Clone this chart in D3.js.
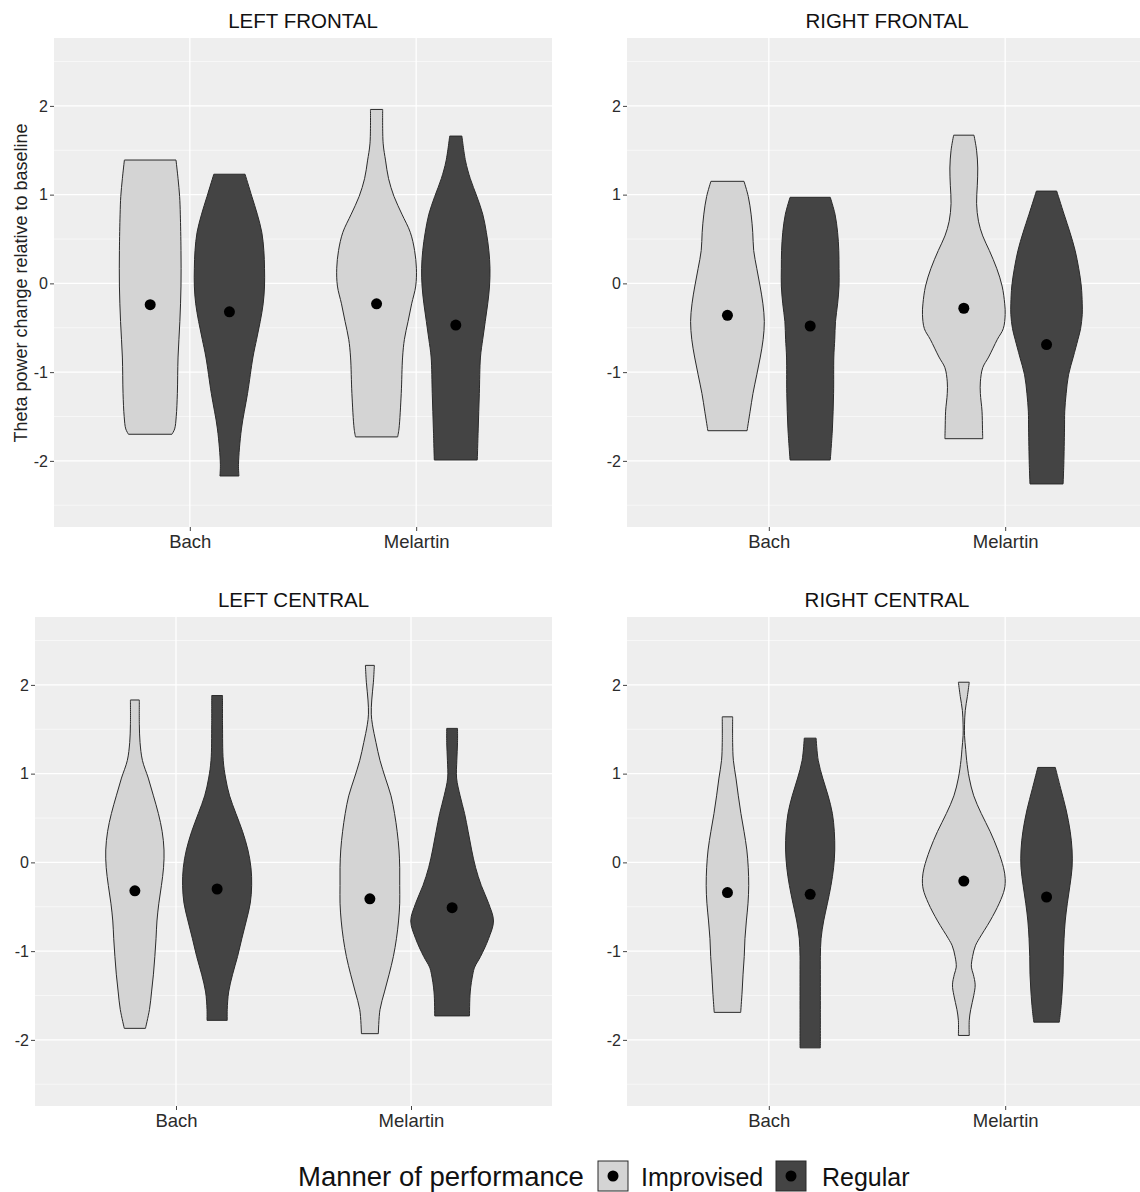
<!DOCTYPE html>
<html>
<head>
<meta charset="utf-8">
<script src="https://cdn.jsdelivr.net/npm/d3@7"></script>
<style>
  body { margin: 0; background: #fff; }
  svg text { font-family: "Liberation Sans", Arial, sans-serif; }
</style>
</head>
<body>
<div class="chart"></div>
<script>
var svgWidth = 1140;
var svgHeight = 1192;

// categories
var regions = ["LEFT FRONTAL", "RIGHT FRONTAL", "LEFT CENTRAL", "RIGHT CENTRAL"];
var pieces = ["Bach", "Melartin"];
var manners = ["Improvised", "Regular"];
var yTicks = [-2, -1, 0, 1, 2];
var yMinor = [-2.5, -1.5, -0.5, 0.5, 1.5, 2.5];

// means, order: Bach-Improvised, Bach-Regular, Melartin-Improvised, Melartin-Regular
var leftFrontalMeans = [-0.24, -0.32, -0.23, -0.47];
var rightFrontalMeans = [-0.36, -0.48, -0.28, -0.69];
var leftCentralMeans = [-0.32, -0.30, -0.41, -0.51];
var rightCentralMeans = [-0.34, -0.36, -0.21, -0.39];

// violin outlines: [value, half width in category units]
var leftFrontalShapes = [
  [[1.39,0.114],[1.18,0.123],[0.98,0.13],[0.78,0.133],[0.37,0.136],[-0.03,0.136],[-0.43,0.131],[-0.83,0.123],[-1.24,0.120],[-1.50,0.115],[-1.64,0.108],[-1.70,0.096]],
  [[1.23,0.069],[0.98,0.099],[0.78,0.123],[0.575,0.143],[0.37,0.152],[0.17,0.155],[-0.03,0.155],[-0.23,0.149],[-0.43,0.136],[-0.63,0.120],[-0.83,0.104],[-1.24,0.080],[-1.64,0.053],[-2.04,0.040],[-2.17,0.042]],
  [[1.96,0.027],[1.58,0.029],[1.38,0.040],[1.18,0.053],[0.98,0.077],[0.78,0.112],[0.575,0.149],[0.37,0.168],[0.17,0.176],[-0.03,0.173],[-0.23,0.155],[-0.43,0.139],[-0.63,0.123],[-0.83,0.115],[-1.24,0.109],[-1.64,0.099],[-1.73,0.093]],
  [[1.66,0.027],[1.38,0.043],[1.18,0.064],[0.98,0.093],[0.78,0.119],[0.575,0.135],[0.37,0.146],[0.17,0.151],[-0.03,0.149],[-0.23,0.141],[-0.43,0.130],[-0.63,0.119],[-0.83,0.109],[-1.24,0.104],[-1.64,0.099],[-1.99,0.095]]
];
var rightFrontalShapes = [
  [[1.15,0.070],[0.98,0.088],[0.78,0.100],[0.575,0.107],[0.37,0.111],[0.17,0.124],[-0.03,0.138],[-0.23,0.150],[-0.43,0.156],[-0.63,0.151],[-0.83,0.139],[-1.03,0.124],[-1.24,0.108],[-1.44,0.096],[-1.66,0.083]],
  [[0.97,0.085],[0.78,0.105],[0.575,0.116],[0.37,0.121],[0.17,0.122],[-0.03,0.122],[-0.23,0.116],[-0.43,0.107],[-0.63,0.104],[-0.83,0.100],[-1.24,0.099],[-1.64,0.094],[-1.99,0.085]],
  [[1.67,0.043],[1.50,0.054],[1.30,0.059],[1.10,0.057],[0.90,0.054],[0.70,0.062],[0.535,0.080],[0.37,0.108],[0.17,0.139],[-0.03,0.162],[-0.23,0.173],[-0.35,0.175],[-0.51,0.167],[-0.63,0.142],[-0.83,0.105],[-0.95,0.080],[-1.11,0.070],[-1.24,0.070],[-1.44,0.077],[-1.64,0.079],[-1.75,0.080]],
  [[1.04,0.043],[0.78,0.074],[0.575,0.099],[0.37,0.121],[0.17,0.136],[-0.03,0.147],[-0.23,0.151],[-0.35,0.151],[-0.51,0.144],[-0.63,0.133],[-0.83,0.113],[-1.03,0.093],[-1.24,0.083],[-1.44,0.077],[-1.64,0.076],[-2.04,0.073],[-2.26,0.070]]
];
var leftCentralShapes = [
  [[1.83,0.019],[1.55,0.019],[1.35,0.022],[1.15,0.032],[0.95,0.057],[0.75,0.079],[0.55,0.100],[0.35,0.116],[0.14,0.124],[-0.06,0.122],[-0.26,0.113],[-0.46,0.102],[-0.66,0.094],[-0.86,0.090],[-1.06,0.085],[-1.26,0.079],[-1.46,0.071],[-1.66,0.062],[-1.87,0.045]],
  [[1.88,0.023],[1.55,0.023],[1.15,0.026],[0.95,0.036],[0.75,0.053],[0.55,0.080],[0.35,0.108],[0.14,0.131],[-0.06,0.144],[-0.26,0.147],[-0.46,0.141],[-0.66,0.124],[-0.86,0.105],[-1.06,0.087],[-1.26,0.066],[-1.46,0.049],[-1.66,0.043],[-1.78,0.043]],
  [[2.22,0.019],[2.03,0.015],[1.83,0.008],[1.67,0.006],[1.55,0.011],[1.35,0.026],[1.15,0.043],[0.95,0.066],[0.75,0.090],[0.55,0.105],[0.35,0.116],[0.14,0.124],[-0.06,0.127],[-0.26,0.127],[-0.46,0.127],[-0.66,0.122],[-0.86,0.113],[-1.06,0.100],[-1.26,0.082],[-1.46,0.062],[-1.66,0.043],[-1.93,0.036]],
  [[1.51,0.023],[1.35,0.023],[1.15,0.020],[0.95,0.019],[0.75,0.034],[0.55,0.053],[0.35,0.068],[0.14,0.083],[-0.06,0.100],[-0.26,0.124],[-0.46,0.155],[-0.66,0.176],[-0.86,0.155],[-1.06,0.121],[-1.18,0.096],[-1.26,0.088],[-1.46,0.077],[-1.73,0.074]]
];
var rightCentralShapes = [
  [[1.64,0.022],[1.35,0.022],[1.15,0.025],[0.95,0.036],[0.75,0.046],[0.55,0.057],[0.35,0.070],[0.14,0.082],[-0.06,0.088],[-0.26,0.090],[-0.46,0.087],[-0.66,0.080],[-0.86,0.074],[-1.06,0.071],[-1.26,0.066],[-1.46,0.062],[-1.69,0.056]],
  [[1.40,0.025],[1.15,0.034],[0.95,0.053],[0.75,0.076],[0.55,0.094],[0.35,0.102],[0.14,0.104],[-0.06,0.099],[-0.26,0.088],[-0.46,0.073],[-0.66,0.057],[-0.86,0.046],[-1.06,0.043],[-1.26,0.043],[-1.66,0.043],[-2.09,0.043]],
  [[2.03,0.023],[1.87,0.015],[1.71,0.006],[1.55,0.003],[1.43,0.003],[1.27,0.008],[1.15,0.012],[0.95,0.023],[0.75,0.042],[0.55,0.074],[0.35,0.111],[0.14,0.144],[-0.06,0.168],[-0.18,0.175],[-0.30,0.172],[-0.46,0.150],[-0.66,0.111],[-0.86,0.065],[-0.94,0.049],[-1.06,0.037],[-1.18,0.032],[-1.26,0.040],[-1.38,0.048],[-1.50,0.042],[-1.66,0.029],[-1.78,0.023],[-1.95,0.023]],
  [[1.07,0.037],[0.83,0.060],[0.59,0.083],[0.35,0.100],[0.14,0.108],[-0.06,0.108],[-0.26,0.099],[-0.46,0.088],[-0.66,0.079],[-0.86,0.074],[-1.06,0.071],[-1.26,0.070],[-1.46,0.066],[-1.66,0.060],[-1.80,0.054]]
];

var allMeans = [leftFrontalMeans, rightFrontalMeans, leftCentralMeans, rightCentralMeans];
var allShapes = [leftFrontalShapes, rightFrontalShapes, leftCentralShapes, rightCentralShapes];

// panel boxes in pixels
var boxes = [
  {left: 54, right: 552, top: 38, bottom: 527},
  {left: 627, right: 1147, top: 38, bottom: 527},
  {left: 35, right: 552, top: 617, bottom: 1106},
  {left: 627, right: 1147, top: 617, bottom: 1106}
];

var fills = {Improvised: "#d4d4d4", Regular: "#444444"};
var dodge = 0.175;

var svg = d3.select(".chart")
  .append("svg")
  .attr("width", svgWidth)
  .attr("height", svgHeight);

function drawPanel(i) {
  var box = boxes[i];
  var g = svg.append("g");

  var x = d3.scaleLinear().domain([0.4, 2.6]).range([box.left, box.right]);
  var y = d3.scaleLinear().domain([-2.745, 2.765]).range([box.bottom, box.top]);

  g.append("rect")
    .attr("x", box.left)
    .attr("y", box.top)
    .attr("width", box.right - box.left)
    .attr("height", box.bottom - box.top)
    .attr("fill", "#eeeeee");

  // grid
  g.selectAll(".minor")
    .data(yMinor)
    .enter()
    .append("line")
    .attr("x1", box.left).attr("x2", box.right)
    .attr("y1", d => y(d)).attr("y2", d => y(d))
    .attr("stroke", "#fafafa")
    .attr("stroke-width", 0.7);

  g.selectAll(".major")
    .data(yTicks)
    .enter()
    .append("line")
    .attr("x1", box.left).attr("x2", box.right)
    .attr("y1", d => y(d)).attr("y2", d => y(d))
    .attr("stroke", "#ffffff")
    .attr("stroke-width", 1.3);

  g.selectAll(".vmajor")
    .data(pieces)
    .enter()
    .append("line")
    .attr("x1", (d, k) => x(k + 1)).attr("x2", (d, k) => x(k + 1))
    .attr("y1", box.top).attr("y2", box.bottom)
    .attr("stroke", "#ffffff")
    .attr("stroke-width", 1.3);

  // violins
  var shapes = allShapes[i];
  var means = allMeans[i];
  shapes.forEach(function(shape, k) {
    var center = Math.floor(k / 2) + 1 + (k % 2 === 0 ? -dodge : dodge);
    var manner = manners[k % 2];
    var area = d3.area()
      .curve(d3.curveCatmullRom)
      .y(d => y(d[0]))
      .x0(d => x(center - d[1]))
      .x1(d => x(center + d[1]));
    g.append("path")
      .attr("d", area(shape))
      .attr("fill", fills[manner])
      .attr("stroke", "#2a2a2a")
      .attr("stroke-width", 1);
    g.append("circle")
      .attr("cx", x(center))
      .attr("cy", y(means[k]))
      .attr("r", 5.5)
      .attr("fill", "#000");
  });

  // axes
  var leftAxis = d3.axisLeft(y).tickValues(yTicks).tickSize(4).tickPadding(2);
  var yAxis = g.append("g")
    .attr("transform", `translate(${box.left}, 0)`)
    .call(leftAxis);
  yAxis.select(".domain").remove();
  yAxis.selectAll("line").attr("stroke", "#444");
  yAxis.selectAll("text")
    .attr("fill", "#2b2b2b")
    .style("font-size", "16px")
    .text(d => d < 0 ? "-" + Math.abs(d) : d);

  var bottomAxis = d3.axisBottom(x).tickValues([1, 2]).tickSize(4).tickPadding(4)
    .tickFormat((d, k) => pieces[k]);
  var xAxis = g.append("g")
    .attr("transform", `translate(0, ${box.bottom})`)
    .call(bottomAxis);
  xAxis.select(".domain").remove();
  xAxis.selectAll("line").attr("stroke", "#444");
  xAxis.selectAll("text")
    .attr("fill", "#2b2b2b")
    .style("font-size", "18.5px");

  // title
  g.append("text")
    .attr("x", (box.left + box.right) / 2)
    .attr("y", box.top - 10)
    .attr("text-anchor", "middle")
    .attr("fill", "#111")
    .style("font-size", "20.5px")
    .text(regions[i]);
}

for (var i = 0; i < 4; i++) {
  drawPanel(i);
}

// y axis title
svg.append("text")
  .attr("transform", "rotate(-90)")
  .attr("x", -283)
  .attr("y", 27)
  .attr("text-anchor", "middle")
  .attr("fill", "#222")
  .style("font-size", "18px")
  .text("Theta power change relative to baseline");

// legend
var legend = svg.append("g");
legend.append("text")
  .attr("x", 298)
  .attr("y", 1186)
  .attr("fill", "#111")
  .style("font-size", "27.5px")
  .text("Manner of performance");

var keyX = [598, 776];
var labelX = [641, 822];
manners.forEach(function(m, k) {
  legend.append("rect")
    .attr("x", keyX[k])
    .attr("y", 1161)
    .attr("width", 30)
    .attr("height", 30)
    .attr("fill", fills[m])
    .attr("stroke", "#2a2a2a")
    .attr("stroke-width", 1);
  legend.append("circle")
    .attr("cx", keyX[k] + 15)
    .attr("cy", 1176)
    .attr("r", 5.5)
    .attr("fill", "#000");
  legend.append("text")
    .attr("x", labelX[k])
    .attr("y", 1186)
    .attr("fill", "#111")
    .style("font-size", "25px")
    .text(m);
});
</script>
</body>
</html>
